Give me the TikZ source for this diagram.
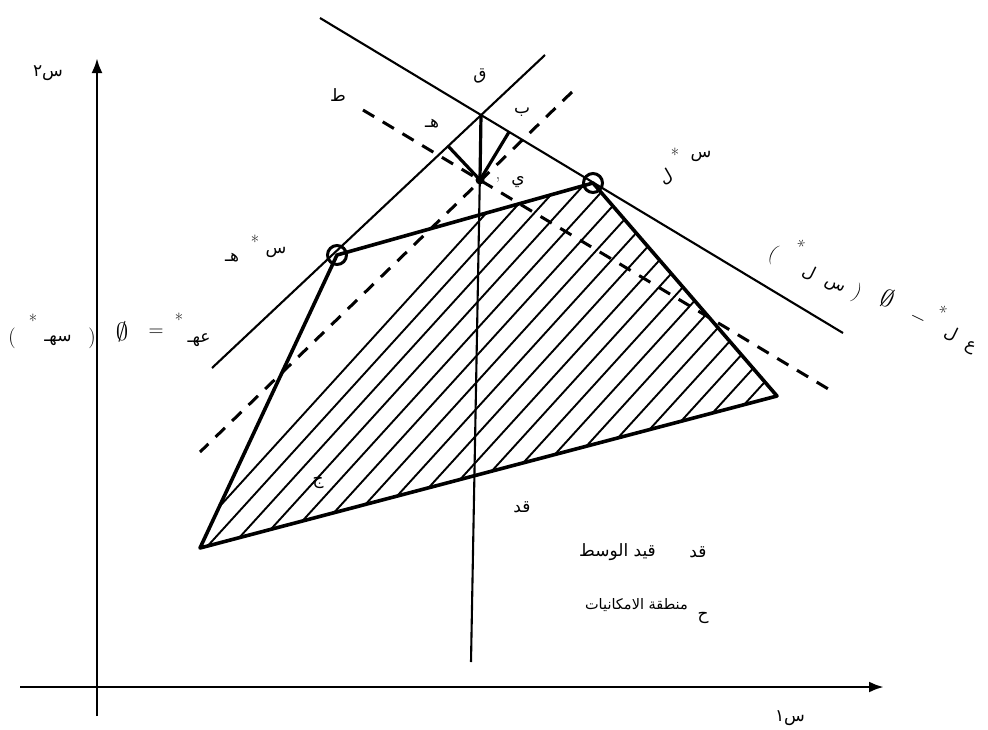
\documentclass[tikz,border=0pt]{standalone}
\usepackage{fontspec}
\usetikzlibrary{arrows.meta}
\TeXXeTstate=1
\newfontfamily\arabicfont[Script=Arabic]{DejaVu Sans}
\newcommand{\ar}[1]{{\arabicfont\beginR #1\endR}}
\begin{document}
\begin{tikzpicture}[x=1pt,y=-1pt,
  axisln/.style={line width=2.8pt,-{Latex[length=15pt,width=11pt]}},
  thinln/.style={line width=2.1pt},
  edgeln/.style={line width=3.6pt,line join=round},
  dashln/.style={line width=3pt,dash pattern=on 13pt off 10pt},
  hatchln/.style={line width=1.9pt},
  footln/.style={line width=3.2pt},
  ring/.style={circle,draw,line width=3pt,minimum size=19pt,inner sep=0pt},
  lbl/.style={font=\fontsize{17}{19}\selectfont,inner sep=0pt},
  plbl/.style={font=\fontsize{20}{22}\selectfont,inner sep=0pt},
  sym/.style={font=\fontsize{28}{30}\selectfont,inner sep=0pt},
  stars/.style={font=\fontsize{18}{18}\selectfont,inner sep=0pt}]
\useasboundingbox (0,0) rectangle (988,729);

% key points
\coordinate (A) at (200,548);
\coordinate (B) at (337,255);
\coordinate (C) at (593,183);
\coordinate (D) at (777,396);
\coordinate (xl) at (20,687);
\coordinate (xr) at (884,687);
\coordinate (yb) at (97,716);
\coordinate (yt) at (97,58);
\coordinate (L1a) at (212,368);
\coordinate (L1b) at (545,55);
\coordinate (L2a) at (320,18);
\coordinate (L2b) at (843,333);
\coordinate (Q) at (481,115);
\coordinate (Y) at (480,180);
\coordinate (F1) at (448,146);
\coordinate (F2) at (509,132);
\coordinate (Vb) at (471,662);
\coordinate (D1a) at (363,110);
\coordinate (D1b) at (830,390);
\coordinate (D2a) at (572,92);
\coordinate (D2b) at (200,452);

% hatching
\begin{scope}
  \clip (A) -- (B) -- (C) -- (D) -- cycle;
  \foreach \i in {0,...,36} {
    \pgfmathsetmacro{\xz}{180+24*\i}
    \draw[hatchln] (\xz-220,550+242) -- (\xz+500,550-550);
  }
\end{scope}

% axes
\draw[axisln] (xl) -- (xr);
\draw[axisln] (yb) -- (yt);

% constraint lines
\draw[thinln] (L1a) -- (L1b);
\draw[thinln] (L2a) -- (L2b);
\draw[thinln] (Q) -- (Vb);

% dashed lines
\draw[dashln] (D1a) -- (D1b);
\draw[dashln] (D2a) -- (D2b);

% feasible region
\draw[edgeln] (A) -- (B) -- (C) -- (D) -- cycle;

% projections from the point
\draw[footln] (Q) -- (Y);
\draw[footln] (Y) -- (F1);
\draw[footln] (Y) -- (F2);
\fill (Y) circle (4.5pt);

% circled points
\node[ring] (Bc) at (B) {};
\node[ring] (Cc) at (C) {};

% axis labels
\node[lbl] (s2) at (48,73) {\ar{س٢}};
\node[lbl] (s1) at (790,718) {\ar{س١}};

% point labels
\node[lbl] (lq) at (480,76) {\ar{ق}};
\node[lbl] (lt) at (338,95) {\ar{ط}};
\node[lbl] (lh) at (432,124) {\ar{هـ}};
\node[lbl] (lb) at (522,112) {\ar{ب}};
\node[lbl] (ly) at (518,182) {\ar{ي}};
\node[lbl] (lyp) at (498,184) {'};
\node[lbl] (lqd) at (522,507) {\ar{قد}};
\node[lbl] (lj) at (318,483) {\ar{ج}};

% x*_H near B
\node[lbl] (bh) at (232,258) {\ar{هـ}};
\node[stars] (bst) at (255,242) {*};
\node[lbl] (bs) at (276,252) {\ar{س}};

% x*_L near C
\node[lbl,rotate=30] (cl) at (666,177) {\ar{ل}};
\node[stars] (cst) at (675,155) {*};
\node[lbl] (cs) at (701,156) {\ar{س}};

% left formula
\node[plbl] (p1) at (12,338) {$($};
\node[stars] (pst1) at (33,321) {*};
\node[lbl] (p2) at (58,340) {\ar{سهـ}};
\node[plbl] (p3) at (92,338) {$)$};
\node[sym] (p4) at (122,332) {$\emptyset$};
\node[plbl] (p5) at (156,333) {$=$};
\node[stars] (pst2) at (179,320) {*};
\node[lbl] (p6) at (199,340) {\ar{عهـ}};

% right formula (along the line)
\node[plbl,rotate=-26] (r1) at (773,254) {$($};
\node[stars,rotate=-26] (rst1) at (800,246) {*};
\node[lbl,rotate=-26] (r2a) at (809,273) {\ar{ل}};
\node[lbl,rotate=-26] (r2b) at (834,287) {\ar{س}};
\node[plbl,rotate=-26] (r3) at (857,293) {$)$};
\node[sym,rotate=-26] (r4) at (888,298) {$\emptyset$};
\node[plbl,rotate=-26] (r5) at (918,318) {$-$};
\node[stars,rotate=-26] (rst2) at (942,312) {*};
\node[lbl,rotate=-26] (r6a) at (951,334) {\ar{ل}};
\node[lbl,rotate=-26] (r6b) at (970,348) {\ar{ع}};

% legend
\node[lbl] (g1) at (698,552) {\ar{قد}};
\node[lbl,anchor=east] (g2) at (656,552) {\ar{قيد الوسط}};
\node[lbl] (g3) at (703,618) {\ar{ح}};
\node[font=\fontsize{14.5}{16}\selectfont,inner sep=0pt,anchor=east] (g4) at (688,605) {\ar{منطقة الامكانيات}};
\end{tikzpicture}
\end{document}
